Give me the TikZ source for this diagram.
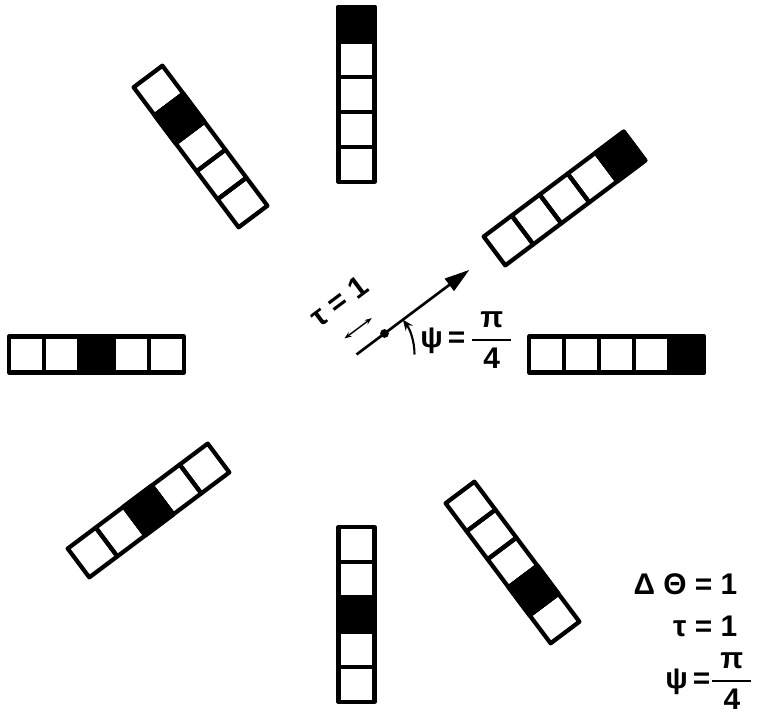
\documentclass[tikz,border=0pt]{standalone}
\usepackage{amsmath}
\usepackage{fontspec}
\setmainfont{Liberation Sans}
\usetikzlibrary{arrows.meta}

\newcommand{\fracpi}{$\genfrac{}{}{1.3pt}{0}{\makebox[1.3em]{π}}{\makebox[1.3em]{4}}$}

\begin{document}
\begin{tikzpicture}[
    x=0.02cm, y=0.02cm,
    cellule/.style={draw, line width=2.4pt, line join=round},
    noire/.style={cellule, fill=black},
    texte/.style={font=\fontsize{17}{20}\selectfont\bfseries, inner sep=0pt},
  ]
  \useasboundingbox (0,0) rectangle (766,726);
  \coordinate (C) at (356.5,371.5);   % centre des barrettes
  % les huit barrettes de cinq cases, la case noire en \k
  \foreach \ang/\k in {0/5, 36.87/5, 90/5, 126.87/4, 180/3, 216.87/3, 270/3, 306.87/4}{
    \begin{scope}[shift={(C)}, rotate=\ang]
      \foreach \i in {1,...,5}
        \draw[cellule] ({137.5+35*\i},-18) rectangle ++(35,36);
      \draw[noire] ({137.5+35*\k},-18) rectangle ++(35,36);
    \end{scope}
  }
  % direction psi
  \begin{scope}[shift={(C)}, rotate=36.87]
    \coordinate (pointe) at (141,0);
    \coordinate (tau) at (35,0);
    \coordinate (ta) at (0,20);
    \coordinate (tb) at (34,20);
    \coordinate (taulabel) at (18,53);
  \end{scope}
  \draw[line width=1.5pt, -{Triangle[length=0.5cm, width=0.3cm]}] (C) -- (pointe);
  \fill (tau) circle (2.5pt);
  \draw[line width=0.8pt, {Stealth[length=4pt]}-{Stealth[length=4pt]}] (ta) -- (tb);
  \node[texte, rotate=36.87] (taunode) at (taulabel) {τ = 1};
  \draw[line width=1.2pt, -{Stealth[length=6pt, width=5pt]}] (C) ++(0:58) arc[start angle=0, end angle=36.87, radius=58];
  \node[texte, anchor=west] (psi) at (420,386) {ψ\,=\,\fracpi};
  % valeurs
  \node[texte, anchor=east] (dtheta) at (737.5,142) {Δ Θ = 1};
  \node[texte, anchor=east] (tauval) at (737.5,100) {τ = 1};
  \node[texte, anchor=west] (psival) at (665,45) {ψ\,=\fracpi};
\end{tikzpicture}
\end{document}
